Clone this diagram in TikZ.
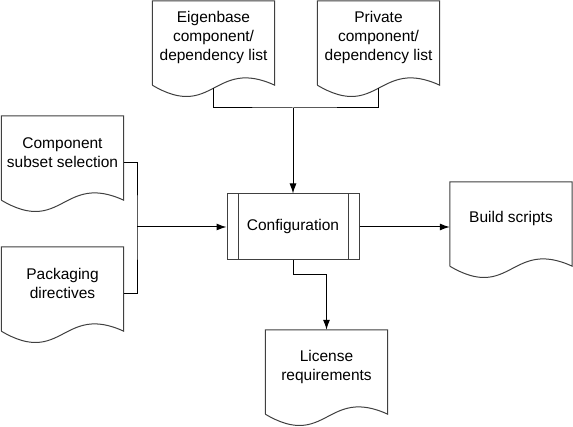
\documentclass[tikz,border=0pt]{standalone}
\usepackage{fontspec}
\setmainfont{Liberation Sans}
\usetikzlibrary{arrows.meta,calc}

\tikzset{
  line/.style={draw=black!75,line width=1pt},
  doc/.style={minimum width=122pt,minimum height=73pt,inner sep=0pt,align=center,
    append after command={\pgfextra{
      \draw[line,fill=white] ([yshift=-11pt]\tikzlastnode.south west) -- (\tikzlastnode.north west)
        -- (\tikzlastnode.north east) -- ([yshift=-11pt]\tikzlastnode.south east)
        .. controls +(-61pt,28pt) and +(61pt,-36pt) .. ([yshift=-11pt]\tikzlastnode.south west);
      \coordinate (\tikzlastnode-foot) at ([yshift=-14pt]\tikzlastnode.south);
      \coordinate (\tikzlastnode-out) at ([yshift=-10pt]\tikzlastnode.east);
    }}},
  process/.style={line,minimum width=132pt,minimum height=66pt,inner sep=0pt,
    path picture={
      \draw[line] ([xshift=11pt]path picture bounding box.north west) -- ([xshift=11pt]path picture bounding box.south west);
      \draw[line] ([xshift=-11pt]path picture bounding box.north east) -- ([xshift=-11pt]path picture bounding box.south east);
    }},
  >={Latex[length=10pt,width=7pt]},
}

\begin{document}
\begin{tikzpicture}[x=1pt,y=1pt,font=\fontsize{15.5}{19}\selectfont]
      \useasboundingbox (0,0) rectangle (573,427);

      \node[doc] (eig) at (213.5,389.5) {Eigenbase\\component/\\dependency list};
      \node[doc] (priv) at (378.5,389.5) {Private\\component/\\dependency list};
      \node[doc] (subset) at (62.5,274.5) {Component\\subset selection};
      \node[doc] (pack) at (62.5,143.5) {Packaging\\directives};
      \node[doc] (build) at (511,208.5) {Build scripts};
      \node[doc] (lic) at (326.5,60.5) {License\\requirements};
      \node[process] (config) at (293,200) {Configuration};

      \coordinate (join) at (293,319);
      \coordinate (lbus) at (137,200);

      \draw[line,draw=black] (eig-foot) |- (join) -| (priv-foot);
      \draw[line,draw=black,->] (join) -- (config.north);
      \draw[line,draw=black] (subset-out) -| (lbus) |- (pack-out);
      \draw[line,draw=black,->] (lbus) -- (config.west);
      \draw[line,draw=black,->] (config.east) -- (config.east -| build.west);
      \draw[line,draw=black,->] (config.south) -- ++(0,-14) -| (lic.north);
    \end{tikzpicture}
\end{document}
